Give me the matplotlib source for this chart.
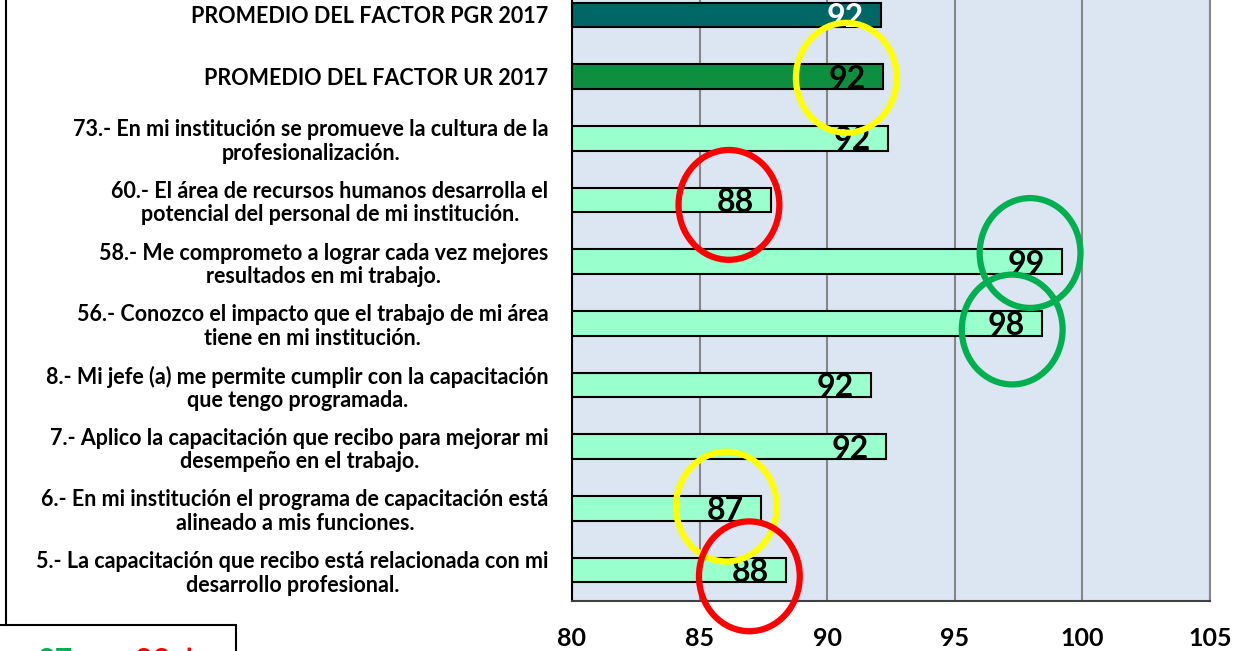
import matplotlib.pyplot as plt
from matplotlib.patches import Ellipse, Rectangle
from matplotlib.lines import Line2D

plt.rcParams['font.family'] = ['Lato', 'DejaVu Sans']

# Datos (de arriba hacia abajo)
preguntas = [
    'PROMEDIO DEL FACTOR PGR 2017',
    'PROMEDIO DEL FACTOR UR 2017',
    '73.- En mi institución se promueve la cultura de la\nprofesionalización.',
    '60.- El área de recursos humanos desarrolla el\npotencial del personal de mi institución.',
    '58.- Me comprometo a lograr cada vez mejores\nresultados en mi trabajo.',
    '56.- Conozco el impacto que el trabajo de mi área\ntiene en mi institución.',
    '8.- Mi jefe (a) me permite cumplir con la capacitación\nque tengo programada.',
    '7.- Aplico la capacitación que recibo para mejorar mi\ndesempeño en el trabajo.',
    '6.- En mi institución el programa de capacitación está\nalineado a mis funciones.',
    '5.- La capacitación que recibo está relacionada con mi\ndesarrollo profesional.',
]
valores = [92.1, 92.2, 92.4, 87.8, 99.2, 98.4, 91.7, 92.3, 87.4, 88.4]
colores = ['#006666', '#0E8F3F'] + ['#99FFCC'] * 8
color_texto = ['white'] + ['black'] * 9

# Círculos de resaltado: (x, indice de fila, color)
circ_x = [90.75, 86.15, 97.95, 97.25, 86.05, 86.95]
circ_fila = [1.02, 3.08, 3.86, 5.1, 7.97, 9.1]
circ_color = ['#FFFF00', '#FF0000', '#00B050', '#00B050', '#FFFF00', '#FF0000']

fig = plt.figure(figsize=(12.51, 6.51), dpi=100)
ax = fig.add_axes([572 / 1251, 50 / 651, 638 / 1251, 617 / 651])
ax.set_facecolor('#DCE6F2')

y = list(range(len(valores)))
ax.barh(y, [v - 80 for v in valores], left=80, height=0.4,
        color=colores, edgecolor='black', linewidth=1.5, zorder=3)

for i, v in enumerate(valores):
    ax.text(v - 1.4, i + 0.04, str(round(v)), ha='center', va='center',
            fontsize=23, fontweight='bold', color=color_texto[i], zorder=4)

for cx, cy, cc in zip(circ_x, circ_fila, circ_color):
    ax.add_patch(Ellipse((cx, cy), 3.95, 1.78, fill=False, edgecolor=cc,
                         linewidth=4.5, zorder=5, clip_on=False))

ax.set_xlim(80, 105)
ax.set_ylim(len(valores) - 0.5, -0.5)
ax.set_xticks([80, 85, 90, 95, 100, 105])
ax.set_yticks(y)
ax.set_yticklabels(preguntas, fontsize=15.5, fontweight='bold',
                   multialignment='center', linespacing=1.15)
for lbl in ax.get_xticklabels():
    lbl.set_fontsize(18)
    lbl.set_fontweight('bold')
ax.tick_params(axis='x', length=0, pad=19)
ax.tick_params(axis='y', length=0, pad=17)
ax.grid(axis='x', color='#868686', linewidth=1.5, zorder=1)
ax.spines['top'].set_visible(False)
ax.spines['right'].set_color('#868686')
ax.spines['right'].set_linewidth(1.5)
ax.spines['left'].set_color('black')
ax.spines['left'].set_linewidth(1.5)
ax.spines['bottom'].set_color('#404040')
ax.spines['bottom'].set_linewidth(1.5)

# marco del cuadro de texto y leyenda inferior (recortados)
fig.add_artist(Line2D([6 / 1251, 6 / 1251], [26 / 651, 1], color='black',
                      linewidth=1.5))
fig.add_artist(Rectangle((-0.01, -0.05), 0.01 + 236 / 1251, 0.05 + 26 / 651,
                         fill=False, edgecolor='black', linewidth=1.5))
fig.text(38 / 1251, 4 / 651, '87', color='#00B050', fontsize=22,
         fontweight='bold', va='top')
fig.text(135 / 1251, 4 / 651, '88 \u2193', color='#FF0000', fontsize=22,
         fontweight='bold', va='top')

fig.savefig('out.png', dpi=100)
